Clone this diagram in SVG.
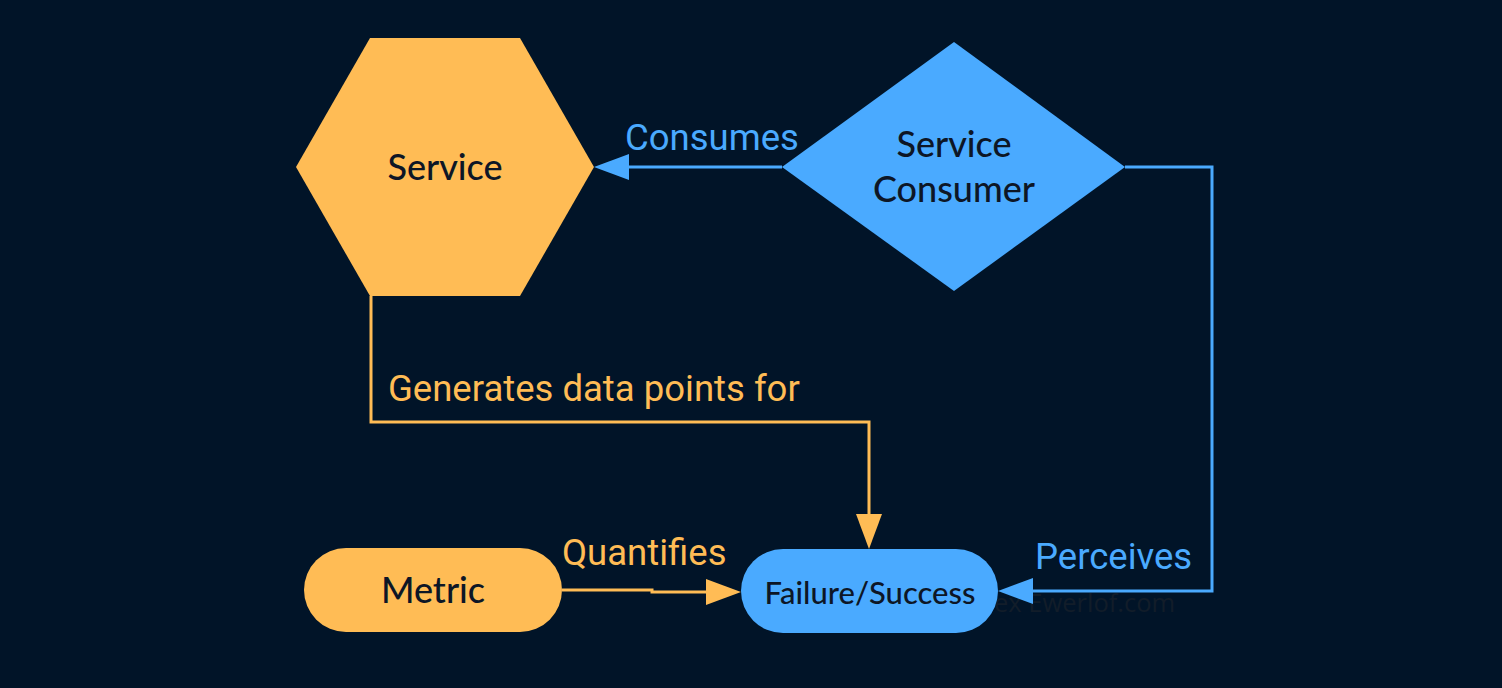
<svg xmlns="http://www.w3.org/2000/svg" width="1502" height="688" viewBox="0 0 1502 688">
<defs>
<style>
.bg{fill:#011428}
.orange{fill:#FFBC55}
.blue{fill:#4AAAFF}
.ntext{font-family:Lato,"Open Sans",sans-serif;fill:#0d1626;text-anchor:middle;font-weight:500}
.elabel{font-family:Roboto,"Liberation Sans",sans-serif;font-size:36.5px}
.eo{fill:#FFBC55}
.eb{fill:#4AAAFF}
.lo{fill:none;stroke:#FFBC55;stroke-width:3}
.lb{fill:none;stroke:#4AAAFF;stroke-width:3}
.wm{font-family:"Open Sans","Liberation Sans",sans-serif;font-size:25.5px;fill:#121d2a}
</style>
<marker id="arrO" markerUnits="userSpaceOnUse" markerWidth="35" markerHeight="26" viewBox="0 0 35 26" refX="0" refY="13" orient="auto">
<path d="M0,0 L35,13 L0,26 z" fill="#FFBC55"/>
</marker>
<marker id="arrB" markerUnits="userSpaceOnUse" markerWidth="35" markerHeight="26" viewBox="0 0 35 26" refX="0" refY="13" orient="auto">
<path d="M0,0 L35,13 L0,26 z" fill="#4AAAFF"/>
</marker>
</defs>
<rect class="bg" x="0" y="0" width="1502" height="688"/>
<text class="wm" x="994" y="612">ex Ewerlof.com</text>

<g id="connectors">
<path class="lb" d="M782,167 L629,167" marker-end="url(#arrB)"/>
<path class="lb" d="M1125,167 L1212,167 L1212,591 L1033,591" marker-end="url(#arrB)"/>
<path class="lo" d="M371,296 L371,422 L869,422 L869,514" marker-end="url(#arrO)"/>
<path class="lo" d="M562,590 L652,590 L652,592 L706,592" marker-end="url(#arrO)"/>
<text class="elabel eb" x="625" y="150">Consumes</text>
<text class="elabel eo" x="388" y="401">Generates data points for</text>
<text class="elabel eo" x="562" y="565">Quantifies</text>
<text class="elabel eb" x="1035" y="569">Perceives</text>
</g>

<g id="service">
<polygon class="orange" points="370,38 520,38 594,167 520,296 370,296 296,167"/>
<text class="ntext" x="445" y="180" font-size="36">Service</text>
</g>

<g id="service-consumer">
<polygon class="blue" points="954,42 1125,167 954,291 782,167"/>
<text class="ntext" x="954" y="157" font-size="36">Service</text>
<text class="ntext" x="954" y="202" font-size="36">Consumer</text>
</g>

<g id="metric">
<rect class="orange" x="304" y="548" width="258" height="84" rx="42"/>
<text class="ntext" x="433" y="603" font-size="36">Metric</text>
</g>

<g id="failure-success">
<rect class="blue" x="741" y="549" width="257" height="84" rx="42"/>
<text class="ntext" x="870" y="604" font-size="31">Failure/Success</text>
</g>
</svg>
